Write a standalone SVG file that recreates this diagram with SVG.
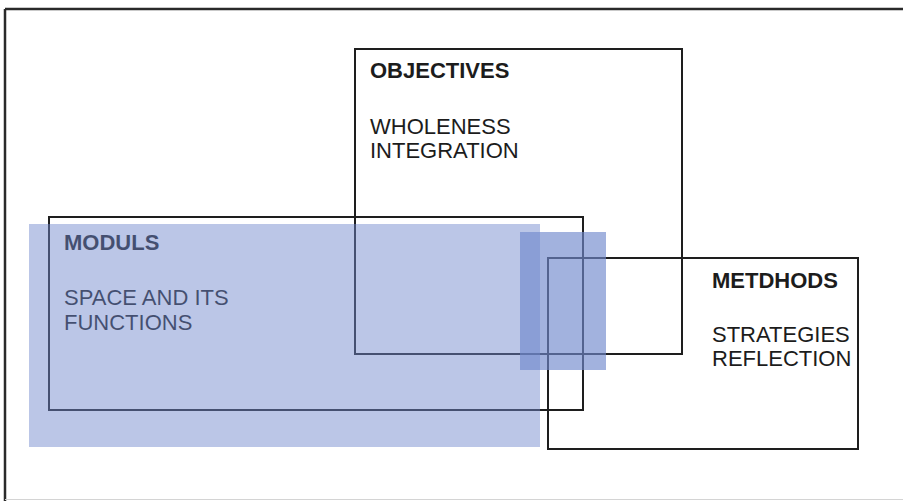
<svg xmlns="http://www.w3.org/2000/svg" width="903" height="501" viewBox="0 0 903 501">
<style>
.box{fill:none;stroke:#1e1e1e;stroke-width:2}
.t{font-family:"Liberation Sans",Arial,sans-serif;font-size:22px;fill:#1c1c1c}
.h{font-weight:bold}
.blue{fill:#7088cc}
</style>
<rect x="0" y="0" width="903" height="501" fill="#ffffff"/>
<g id="frame">
<line x1="5" y1="9" x2="903" y2="9" stroke="#2a2a2a" stroke-width="2.5"/>
<line x1="5" y1="9" x2="5" y2="501" stroke="#2a2a2a" stroke-width="2.5"/>
<line x1="5" y1="499.5" x2="903" y2="499.5" stroke="#d4d4d4" stroke-width="1"/>
</g>
<g id="objectives">
<rect class="box" x="355" y="49" width="327" height="305"/>
<text class="t h" x="370" y="78">OBJECTIVES</text>
<text class="t" x="370" y="134">WHOLENESS</text>
<text class="t" x="370" y="158">INTEGRATION</text>
</g>
<g id="moduls">
<rect class="box" x="49" y="217" width="534" height="193"/>
<text class="t h" x="64" y="250">MODULS</text>
<text class="t" x="64" y="305">SPACE AND ITS</text>
<text class="t" x="64" y="330">FUNCTIONS</text>
</g>
<g id="methods">
<rect class="box" x="548" y="258" width="310" height="191"/>
<text class="t h" x="712" y="288">METDHODS</text>
<text class="t" x="712" y="342">STRATEGIES</text>
<text class="t" x="712" y="366">REFLECTION</text>
</g>
<g id="highlights">
<rect class="blue" x="29" y="224" width="511" height="223" opacity="0.48"/>
<rect class="blue" x="520" y="232" width="86" height="138" opacity="0.65"/>
</g>
<g id="connectors"></g>
</svg>
